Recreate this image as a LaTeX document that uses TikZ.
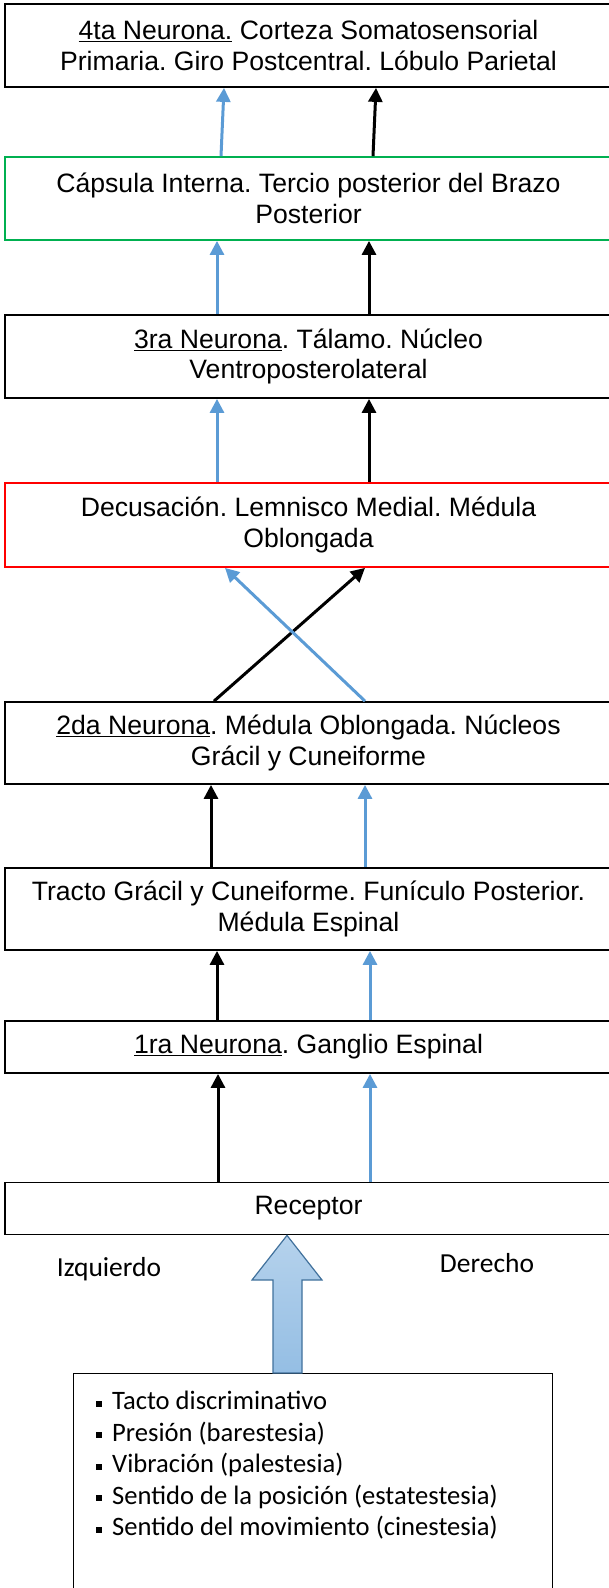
\documentclass[tikz,border=0pt]{standalone}
\usepackage{fontspec}
\setmainfont{Liberation Sans}
\newfontfamily\calibrifont{Carlito}
\usepackage{tikz}
\usetikzlibrary{arrows.meta, positioning}

\definecolor{azul}{HTML}{5B9BD5}
\definecolor{verde}{HTML}{00B050}
\definecolor{borde}{HTML}{41719C}
\newcommand{\vineta}{\rule[3pt]{6pt}{6pt}\hspace{10pt}}
\frenchspacing

\begin{document}
\begin{tikzpicture}[x=1pt, y=-1pt, font=\fontsize{26.6}{30.5}\selectfont]
% Setup the styles for the boxes and the arrows
\tikzset{box style/.style={draw,
		line width=1.8pt,
		minimum width=607pt,
		inner sep=0pt,
		align=center},
	black arrow/.style={draw=black, line width=3pt, -{Triangle[width=14pt,length=14pt]}},
	blue arrow/.style={black arrow, draw=azul}}
\clip (0, 0) rectangle (609, 1588);

% Draw the boxes
\node[box style, minimum height=83pt]              at (308.5, 45.5)  (cortex)  {\underline{4ta Neurona.} Corteza Somatosensorial\\Primaria. Giro Postcentral. Lóbulo Parietal};
\node[box style, minimum height=83pt, draw=verde]  at (308.5, 198.5) (capsula) {Cápsula Interna. Tercio posterior del Brazo\\Posterior};
\node[box style, minimum height=83pt]              at (308.5, 356.5) (talamo)  {\underline{3ra Neurona}. Tálamo. Núcleo\\Ventroposterolateral};
\node[box style, minimum height=84pt, draw=red]    at (308.5, 525)   (decus)   {Decusación. Lemnisco Medial. Médula\\Oblongada};
\node[box style, minimum height=82pt]              at (308.5, 743)   (nucleos) {\underline{2da Neurona}. Médula Oblongada. Núcleos\\Grácil y Cuneiforme};
\node[box style, minimum height=82pt]              at (308.5, 909)   (tracto)  {Tracto Grácil y Cuneiforme. Funículo Posterior.\\Médula Espinal};
\node[box style, minimum height=52pt]              at (308.5, 1047)  (ganglio) {\underline{1ra Neurona}. Ganglio Espinal};
\node[box style, minimum height=52pt]              at (308.5, 1208.5) (recep)  {Receptor};

% Sides and list of sensations
\node[font=\calibrifont\fontsize{27.5}{30}\selectfont] at (109, 1269) (izq) {Izquierdo};
\node[font=\calibrifont\fontsize{27.5}{30}\selectfont] at (487, 1263) (der) {Derecho};
\node[draw, line width=1.2pt, minimum width=479pt, minimum height=260pt, anchor=north west] at (73, 1373) (items) {};
\node[font=\calibrifont\fontsize{26.6}{31.5}\selectfont, align=left, inner sep=0pt, anchor=north west] at (96, 1391) (lista)
	{\vineta Tacto discriminativo\\\vineta Presión (barestesia)\\\vineta Vibración (palestesia)\\\vineta Sentido de la posición (estatestesia)\\\vineta Sentido del movimiento (cinestesia)};

% Big arrow from the list to the receptor
\draw[draw=borde, line width=1.2pt, top color=azul!45, bottom color=azul!65]
	(items.north -| 273,0) -- (273, 1280) -- (252, 1280) -- (recep.south -| 287,0)
	-- (322, 1280) -- (302, 1280) -- (items.north -| 302,0) -- cycle;

% Connect the boxes with arrows
\draw
(recep.north -| 218,0)   edge[black arrow] (ganglio.south -| 218,0)
(recep.north -| 370,0)   edge[blue arrow]  (ganglio.south -| 370,0)
(ganglio.north -| 217,0) edge[black arrow] (tracto.south -| 217,0)
(ganglio.north -| 370,0) edge[blue arrow]  (tracto.south -| 370,0)
(tracto.north -| 211,0)  edge[black arrow] (nucleos.south -| 211,0)
(tracto.north -| 365,0)  edge[blue arrow]  (nucleos.south -| 365,0)
(nucleos.north -| 214,0) edge[black arrow] (decus.south -| 365,0)
(nucleos.north -| 365,0) edge[blue arrow]  (decus.south -| 225,0)
(decus.north -| 217,0)   edge[blue arrow]  (talamo.south -| 217,0)
(decus.north -| 369,0)   edge[black arrow] (talamo.south -| 369,0)
(talamo.north -| 217,0)  edge[blue arrow]  (capsula.south -| 217,0)
(talamo.north -| 369,0)  edge[black arrow] (capsula.south -| 369,0)
(capsula.north -| 221,0) edge[blue arrow]  (cortex.south -| 224,0)
(capsula.north -| 373,0) edge[black arrow] (cortex.south -| 376,0);
\end{tikzpicture}
\end{document}
